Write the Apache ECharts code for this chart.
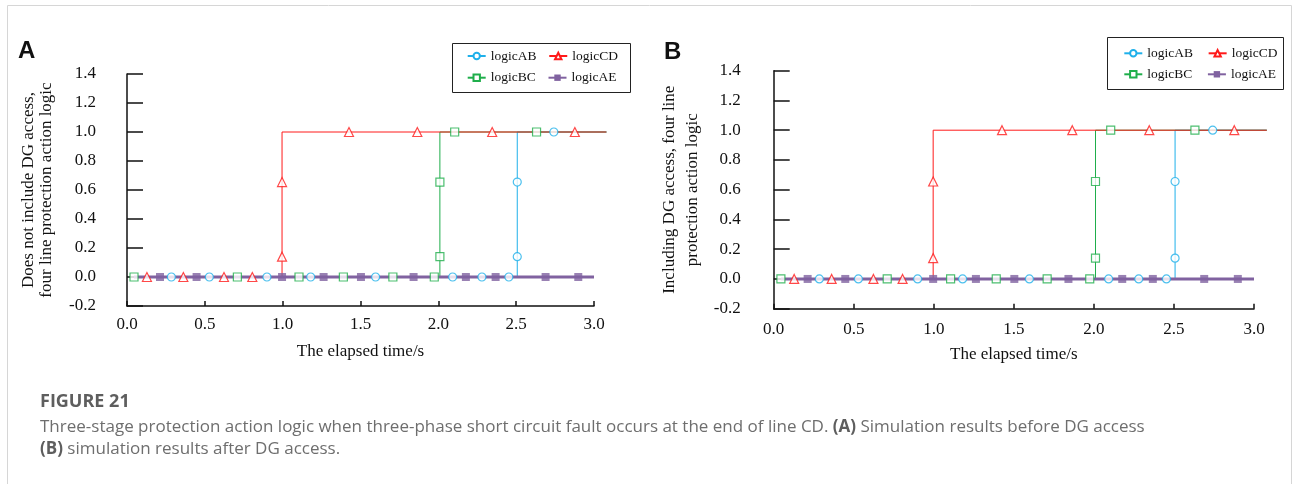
<!DOCTYPE html>
<html lang="en">
<head>
    <meta charset="UTF-8">
    <script type="text/javascript" src="https://cdn.jsdelivr.net/npm/echarts@6/dist/echarts.min.js"></script>
    <style>
        html, body {margin: 0; padding: 0; background: #fff;}
        #main {width: 1293px; height: 484px;}
    </style>
</head>
<body>
<div id="main"></div>
</body>
<script>
    // values (both panels show the same traces)
    var startX = 0.045;
    var endX = 3.08;
    var aeEndX = 3.0;
    var stepMarkY = [0.14, 0.655];     // markers on the rising edges

    var abZeroX = [0.285, 0.529, 0.899, 1.18, 1.597, 2.092, 2.28, 2.453];
    var abStepX = 2.507;
    var abOneX = [2.742];

    var bcZeroX = [0.045, 0.709, 1.105, 1.39, 1.708, 1.974];
    var bcStepX = 2.01;
    var bcOneX = [2.105, 2.631];

    var cdZeroX = [0.128, 0.362, 0.623, 0.805];
    var cdStepX = 0.996;
    var cdOneX = [1.426, 1.865, 2.346, 2.877];

    var aeZeroX = [0.212, 0.447, 0.996, 1.263, 1.503, 1.841, 2.177, 2.368, 2.689, 2.899];

    var yNames = ['Does not include DG access,\nfour line protection action logic',
        'Including DG access, four line\nprotection action logic'];
    var xName = 'The elapsed time/s';

    var serif = '"Times New Roman", "Liberation Serif", serif';

    var curves = [
        {name: 'logicAB', color: '#1fb0ea', symbol: 'circle', size: 8, fill: '#fff', width: 1, z: 2,
            zero: abZeroX, step: abStepX, one: abOneX},
        {name: 'logicBC', color: '#1fae4b', symbol: 'rect', size: 8, fill: '#fff', width: 1, z: 2,
            zero: bcZeroX, step: bcStepX, one: bcOneX},
        {name: 'logicCD', color: '#ff1a1a', symbol: 'triangle', size: 9, fill: '#fff', width: 1, z: 3,
            zero: cdZeroX, step: cdStepX, one: cdOneX},
        {name: 'logicAE', color: '#8062a0', symbol: 'rect', size: 8, fill: '#8062a0', width: 3, z: 4,
            zero: aeZeroX, step: null, one: []}
    ];

    // panel boxes: visible axes run 0..3, the traces run a little past 3.0
    var panels = [
        {left: 127, top: 74, width: 467, height: 232},
        {left: 773.7, top: 70.7, width: 480.3, height: 238}
    ];
    var xShownMax = 3;
    var xDataMax = 3.08;

    function pathOf(c) {
        if (c.step === null) return [[startX, 0], [aeEndX, 0]];
        return [[startX, 0], [c.step, 0], [c.step, 1], [endX, 1]];
    }

    function markersOf(c) {
        var pts = c.zero.map(function (x) { return [x, 0]; });
        if (c.step !== null) {
            stepMarkY.forEach(function (y) { pts.push([c.step, y]); });
        }
        c.one.forEach(function (x) { pts.push([x, 1]); });
        return pts;
    }

    function styleOf(c) {
        return {color: c.fill, borderColor: c.color, borderWidth: c.fill === '#fff' ? 1.2 : 0};
    }

    var grids = [], xAxes = [], yAxes = [], series = [];

    function xAxisOf(g, gap, margin) {
        return {
            type: 'value', gridIndex: g, min: 0, max: xShownMax, interval: 0.5,
            name: xName, nameLocation: 'middle', nameGap: gap, nameMoveOverlap: false,
            nameTextStyle: {fontFamily: serif, fontSize: 17, color: '#111'},
            axisLine: {onZero: false, lineStyle: {color: '#111', width: 1.5}},
            axisTick: {inside: true, length: 5, lineStyle: {color: '#111', width: 1.5}},
            axisLabel: {margin: margin, fontFamily: serif, fontSize: 17, color: '#111',
                formatter: function (v) { return v.toFixed(1); }},
            splitLine: {show: false}
        };
    }

    function yAxisOf(g, name, gap, margin, lh) {
        return {
            type: 'value', gridIndex: g, min: -0.2, max: 1.4, interval: 0.2,
            name: name, nameLocation: 'middle', nameGap: gap, nameMoveOverlap: false,
            nameTextStyle: {fontFamily: serif, fontSize: 17, color: '#111', lineHeight: lh},
            axisLine: {onZero: false, lineStyle: {color: '#111', width: 1.5}},
            axisTick: {inside: true, length: 16, lineStyle: {color: '#111', width: 1.5}},
            axisLabel: {margin: margin, fontFamily: serif, fontSize: 17, color: '#111',
                formatter: function (v) { return v.toFixed(1); }},
            splitLine: {show: false}
        };
    }

    var axisGaps = [
        {xGap: 37, xMargin: 10, yGap: 71, yMargin: 31, lh: 18},
        {xGap: 37, xMargin: 12, yGap: 70, yMargin: 33, lh: 23}
    ];

    panels.forEach(function (b, p) {
        var shown = p * 2, data = p * 2 + 1;
        var ag = axisGaps[p];
        grids.push({left: b.left, top: b.top, width: b.width, height: b.height, outerBoundsMode: 'none'});
        grids.push({left: b.left, top: b.top, width: b.width * xDataMax / xShownMax, height: b.height,
            outerBoundsMode: 'none'});
        xAxes.push(xAxisOf(shown, ag.xGap, ag.xMargin));
        yAxes.push(yAxisOf(shown, yNames[p], ag.yGap, ag.yMargin, ag.lh));
        xAxes.push({type: 'value', gridIndex: data, min: 0, max: xDataMax, show: false});
        yAxes.push({type: 'value', gridIndex: data, min: -0.2, max: 1.4, show: false});

        curves.forEach(function (c) {
            series.push({
                type: 'line', name: c.name, xAxisIndex: data, yAxisIndex: data,
                data: pathOf(c), showSymbol: false, symbol: c.symbol, symbolSize: c.size,
                lineStyle: {color: c.color, width: c.width}, itemStyle: styleOf(c),
                z: c.z, clip: false, silent: true
            });
        });
        curves.forEach(function (c) {
            series.push({
                type: 'scatter', name: c.name, xAxisIndex: data, yAxisIndex: data,
                data: markersOf(c), symbol: c.symbol, symbolSize: c.size,
                itemStyle: styleOf(c), z: 5, clip: false, silent: true
            });
        });
    });

    function legendOf(names, left, top, gap) {
        return {
            data: names, left: left, top: top, orient: 'horizontal', padding: 0,
            itemWidth: 18, itemHeight: 8, itemGap: gap, selectedMode: false,
            textStyle: {fontFamily: serif, fontSize: 13.5, color: '#111'}
        };
    }

    var captionFont = '"Open Sans", "Noto Sans", sans-serif';
    var captionStyle = {
        fontFamily: captionFont, fontSize: 17, color: '#6e6e6e', fontWeight: 'normal', lineHeight: 20,
        rich: {b: {fontFamily: captionFont, fontSize: 17, color: '#5e5e5e', fontWeight: 'bold', lineHeight: 20}}
    };

    var myChart = echarts.init(document.getElementById('main'), null, {renderer: 'canvas'});
    myChart.setOption({
        backgroundColor: '#fff',
        animation: false,
        title: [
            {text: 'FIGURE 21', left: 40, top: 392, padding: 0,
                textStyle: {fontFamily: captionFont, fontSize: 18, fontWeight: 'bold', color: '#5e5e5e', lineHeight: 20}},
            {text: 'Three-stage protection action logic when three-phase short circuit fault occurs at the end of line CD. {b|(A)} Simulation results before DG access',
                left: 40, top: 417, padding: 0, textStyle: captionStyle},
            {text: '{b|(B)} simulation results after DG access.',
                left: 40, top: 439, padding: 0, textStyle: captionStyle}
        ],
        grid: grids,
        xAxis: xAxes,
        yAxis: yAxes,
        legend: [
            legendOf(['logicAB', 'logicCD'], 466.7, 49, 11.8),
            legendOf(['logicBC', 'logicAE'], 466.7, 70.7, 11.8),
            legendOf(['logicAB', 'logicCD'], 1123.3, 46.3, 14.6),
            legendOf(['logicBC', 'logicAE'], 1123.3, 67.3, 14.6)
        ],
        graphic: [
            {type: 'rect', shape: {x: 7.5, y: 5.5, width: 1284, height: 520},
                style: {fill: 'none', stroke: '#d6d6d6', lineWidth: 1}, silent: true},
            {type: 'rect', shape: {x: 452.5, y: 43.5, width: 178, height: 49},
                style: {fill: 'none', stroke: '#222', lineWidth: 1}, silent: true},
            {type: 'rect', shape: {x: 1107.5, y: 37.5, width: 176, height: 52},
                style: {fill: 'none', stroke: '#222', lineWidth: 1}, silent: true},
            {type: 'text', left: 18, top: 39,
                style: {text: 'A', font: 'bold 24px "Liberation Sans", Arial, sans-serif', fill: '#111'}},
            {type: 'text', left: 664, top: 40,
                style: {text: 'B', font: 'bold 24px "Liberation Sans", Arial, sans-serif', fill: '#111'}}
        ],
        series: series
    });
</script>
</html>
